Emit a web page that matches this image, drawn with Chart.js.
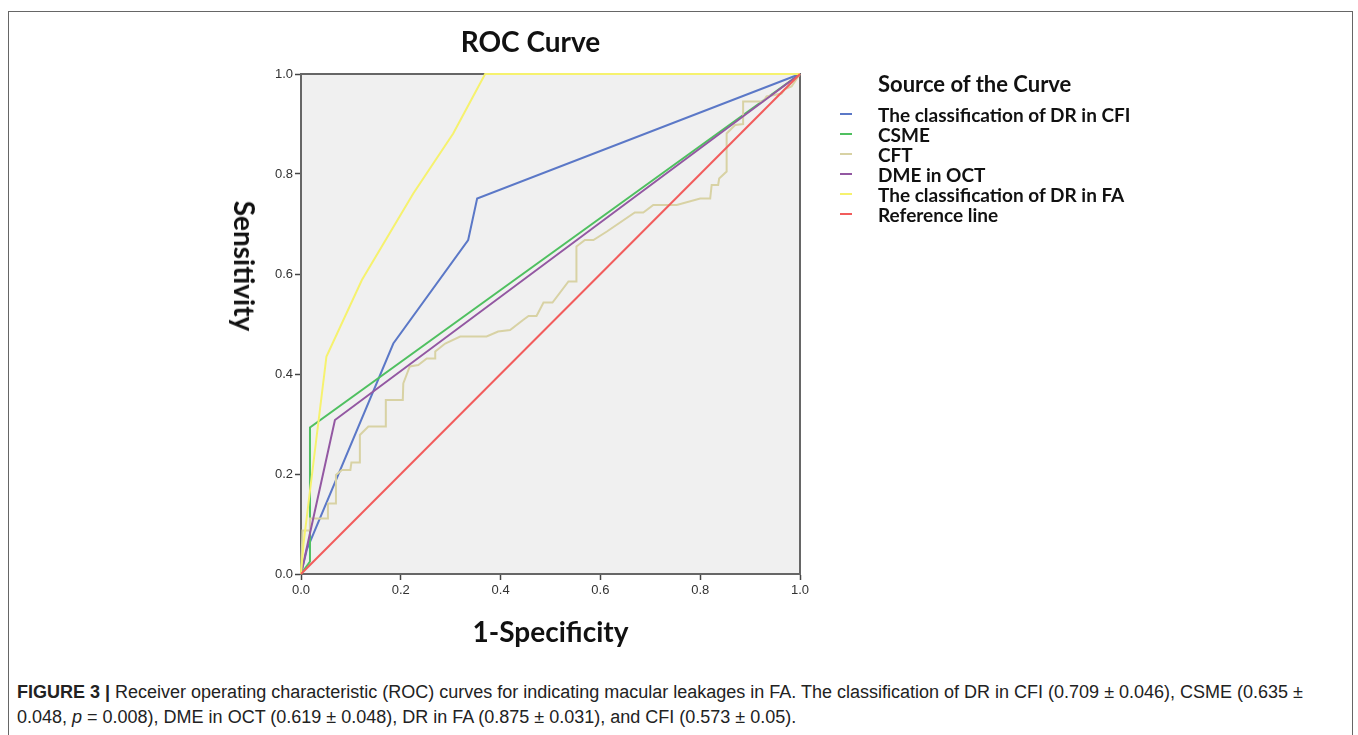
<!DOCTYPE html>
<html lang="en">
<head>
    <meta charset="UTF-8">
    <title>ROC Curve</title>
    <script src="https://cdn.jsdelivr.net/npm/chart.js"></script>
    <style>
        body {
            margin: 0;
            background: #fff;
            width: 1358px;
            height: 735px;
            overflow: hidden;
            position: relative;
            font-family: Lato, sans-serif;
        }
        #frame {
            position: absolute;
            left: 8px;
            top: 11px;
            width: 1343px;
            height: 740px;
            border: 1.5px solid #666;
            border-bottom: none;
        }
        #wrap {
            position: absolute;
            left: 0;
            top: 0;
            width: 1054px;
            height: 670px;
        }
        #ytitle {
            position: absolute;
            left: 245px;
            top: 266px;
            transform: translate(-50%, -50%) rotate(90deg);
            font: bold 28px Lato, sans-serif;
            color: #111;
            white-space: nowrap;
        }
        #legend {
            position: absolute;
            left: 840px;
            top: 70px;
            color: #111;
        }
        #legend .head {
            font: bold 22px Lato, sans-serif;
            margin-left: 38px;
            margin-bottom: 7px;
        }
        #legend .item {
            display: flex;
            align-items: center;
            height: 20px;
            font: bold 19px Lato, sans-serif;
        }
        #legend .sw {
            width: 12px;
            height: 2px;
            margin-right: 26px;
        }
        #caption {
            position: absolute;
            left: 17px;
            top: 680px;
            width: 1330px;
            font: 18px "Liberation Sans", Arial, sans-serif;
            line-height: 25px;
            color: #222;
            white-space: nowrap;
        }
    </style>
</head>
<body>
    <div id="frame"></div>
    <div id="wrap"><canvas id="roc"></canvas></div>
    <div id="ytitle">Sensitivity</div>
    <div id="legend"><div class="head">Source of the Curve</div></div>
    <div id="caption"><b>FIGURE 3 |</b> Receiver operating characteristic (ROC) curves for indicating macular leakages in FA. The classification of DR in CFI (0.709 ± 0.046), CSME (0.635 ±<br>0.048, <i>p</i> = 0.008), DME in OCT (0.619 ± 0.048), DR in FA (0.875 ± 0.031), and CFI (0.573 ± 0.05).</div>

    <script>
        // curve names and colours
        const seriesNames = ['The classification of DR in CFI', 'CSME', 'CFT', 'DME in OCT',
                             'The classification of DR in FA', 'Reference line'];
        const seriesColors = ['#5b78c7', '#4fc060', '#d8d2a4', '#9358a2', '#f6f26e', '#f25c5c'];

        // 1-specificity / sensitivity pairs
        const cfiX = [0, 0.012, 0.185, 0.335, 0.353, 1];
        const cfiY = [0, 0.05, 0.461, 0.668, 0.751, 1];

        const csmeX = [0, 0.018, 0.018, 1];
        const csmeY = [0, 0.025, 0.293, 1];

        const cftX = [0, 0.003, 0.018, 0.018, 0.054, 0.054, 0.070, 0.070, 0.082, 0.099, 0.101, 0.118, 0.118,
                      0.135, 0.170, 0.170, 0.204, 0.205, 0.218, 0.235, 0.252, 0.269, 0.269, 0.289, 0.319,
                      0.372, 0.395, 0.419, 0.445, 0.456, 0.472, 0.486, 0.504, 0.536, 0.552, 0.552, 0.569,
                      0.586, 0.613, 0.669, 0.686, 0.706, 0.753, 0.800, 0.820, 0.823, 0.836, 0.838, 0.853,
                      0.853, 0.870, 0.886, 0.886, 0.926, 0.933, 0.963, 0.970, 0.983, 1];
        const cftY = [0, 0.087, 0.087, 0.111, 0.111, 0.141, 0.141, 0.198, 0.208, 0.208, 0.223, 0.223, 0.278,
                      0.295, 0.295, 0.348, 0.348, 0.381, 0.415, 0.418, 0.431, 0.431, 0.445, 0.461, 0.475,
                      0.475, 0.485, 0.488, 0.508, 0.516, 0.516, 0.543, 0.543, 0.585, 0.585, 0.655, 0.668,
                      0.668, 0.685, 0.723, 0.723, 0.738, 0.738, 0.751, 0.751, 0.778, 0.778, 0.791, 0.805,
                      0.881, 0.898, 0.900, 0.945, 0.945, 0.955, 0.961, 0.970, 0.975, 1];

        const octX = [0, 0.068, 1];
        const octY = [0, 0.308, 1];

        const faX = [0, 0.005, 0.051, 0.122, 0.225, 0.305, 0.369, 1];
        const faY = [0, 0.06, 0.435, 0.588, 0.761, 0.881, 1, 1];

        const refX = [0, 1];
        const refY = [0, 1];

        const axisTicks = [0, 0.2, 0.4, 0.6, 0.8, 1.0];

        const xs = [cfiX, csmeX, cftX, octX, faX, refX];
        const ys = [cfiY, csmeY, cftY, octY, faY, refY];
        const drawOrder = [5, 4, 3, 2, 1, 0];

        const datasets = seriesNames.map((name, k) => ({
            label: name,
            data: xs[k].map((x, i) => ({ x: x, y: ys[k][i] })),
            showLine: true,
            borderColor: seriesColors[k],
            backgroundColor: seriesColors[k],
            borderWidth: 2,
            pointRadius: 0,
            tension: 0,
            clip: 4,
            order: drawOrder[k]
        }));

        // grey plot panel with a frame round it
        const panel = {
            id: 'panel',
            beforeDraw(chart) {
                const a = chart.chartArea, c = chart.ctx;
                c.save();
                c.fillStyle = '#f0f0f0';
                c.fillRect(a.left, a.top, a.right - a.left, a.bottom - a.top);
                c.restore();
            },
            beforeDatasetsDraw(chart) {
                const a = chart.chartArea, c = chart.ctx;
                c.save();
                c.strokeStyle = '#666';
                c.lineWidth = 2;
                c.strokeRect(a.left, a.top, a.right - a.left, a.bottom - a.top);
                c.restore();
            }
        };

        const tickFont = { family: 'Liberation Sans', size: 13 };

        new Chart(document.getElementById('roc'), {
            type: 'scatter',
            data: { datasets: datasets },
            plugins: [panel],
            options: {
                responsive: true,
                maintainAspectRatio: false,
                animation: false,
                layout: { padding: { left: 261, right: 254, top: 0, bottom: 0 } },
                plugins: {
                    legend: { display: false },
                    tooltip: { enabled: false },
                    title: {
                        display: true,
                        text: 'ROC Curve',
                        color: '#111',
                        font: { family: 'Lato', size: 28, weight: 'bold', lineHeight: 1.2 },
                        padding: { top: 26, bottom: 14.4 }
                    }
                },
                scales: {
                    x: {
                        type: 'linear',
                        min: 0, max: 1,
                        afterBuildTicks: s => { s.ticks = axisTicks.map(v => ({ value: v })); },
                        afterFit: s => { s.height = 96; },
                        ticks: {
                            color: '#333', font: tickFont, padding: 3,
                            callback: v => v.toFixed(1)
                        },
                        grid: { drawOnChartArea: false, drawTicks: true, tickLength: 6, tickColor: '#444', tickWidth: 1.5 },
                        border: { display: true, color: '#444', width: 2 },
                        title: {
                            display: true,
                            text: '1-Specificity',
                            color: '#111',
                            font: { family: 'Lato', size: 28, weight: 'bold', lineHeight: 1.2 },
                            padding: { top: 0, bottom: 20 }
                        }
                    },
                    y: {
                        type: 'linear',
                        min: 0, max: 1,
                        afterBuildTicks: s => { s.ticks = axisTicks.map(v => ({ value: v })); },
                        afterFit: s => { s.width = 40; },
                        ticks: {
                            color: '#333', font: tickFont, padding: 2,
                            callback: v => v.toFixed(1)
                        },
                        grid: { drawOnChartArea: false, drawTicks: true, tickLength: 6, tickColor: '#444', tickWidth: 1.5 },
                        border: { display: true, color: '#444', width: 2 }
                    }
                }
            }
        });

        // legend rows, built from the same names and colours
        const legend = document.getElementById('legend');
        seriesNames.forEach((name, k) => {
            const row = document.createElement('div');
            row.className = 'item';
            const sw = document.createElement('span');
            sw.className = 'sw';
            sw.style.background = seriesColors[k];
            row.appendChild(sw);
            row.appendChild(document.createTextNode(name));
            legend.appendChild(row);
        });
    </script>
</body>
</html>
